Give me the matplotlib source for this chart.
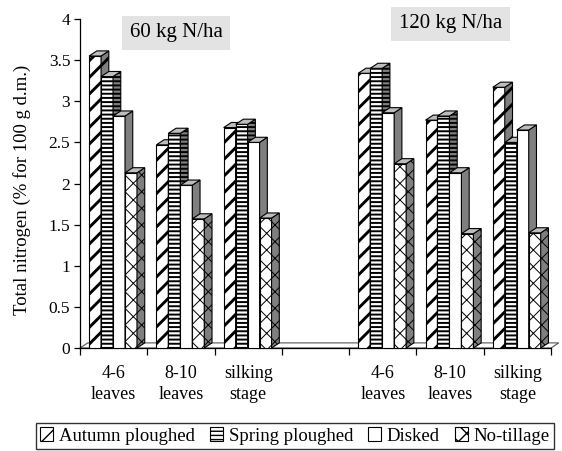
import matplotlib
matplotlib.use("Agg")
import matplotlib.pyplot as plt
from matplotlib.patches import Polygon, Patch
import numpy as np

categories = ["4-6\nleaves", "8-10\nleaves", "silking\nstage", "",
              "4-6\nleaves", "8-10\nleaves", "silking\nstage"]
series = ["Autumn ploughed", "Spring ploughed", "Disked", "No-tillage"]
autumn = [3.55, 2.47, 2.68, None, 3.34, 2.77, 3.17]
spring = [3.30, 2.61, 2.72, None, 3.40, 2.82, 2.50]
disked = [2.82, 1.98, 2.50, None, 2.86, 2.13, 2.65]
notill = [2.13, 1.57, 1.58, None, 2.24, 1.39, 1.40]
yticks = [0, 0.5, 1, 1.5, 2, 2.5, 3, 3.5, 4]
ytick_labels = ["0", "0.5", "1", "1.5", "2", "2.5", "3", "3.5", "4"]
panel_titles = ["60 kg N/ha", "120 kg N/ha"]

plt.rcParams['font.family'] = ['Liberation Serif', 'DejaVu Serif']

hatches = ['//', '----', '', 'xx']
hatch_lw = [2.1, 1.4, 1.0, 0.7]
side_col = '#7f7f7f'
top_col = '#bdbdbd'


def set_hlw(p, lw):
    if hasattr(p, 'set_hatch_linewidth'):
        p.set_hatch_linewidth(lw)


fig = plt.figure(figsize=(5.62, 4.51), dpi=100)
ax = fig.add_axes([80/562, 1-348/451, 471/562, 329/451])
ax.set_xlim(0, 7)
ax.set_ylim(0, 4)

dx, dy = 0.115, 0.062
w = 0.178
off = 0.135

# floor
floor = Polygon([(0, 0), (7, 0), (7+dx, dy), (dx, dy)], closed=True,
                facecolor='white', edgecolor='#555555', lw=0.8, zorder=1.5,
                clip_on=False)
ax.add_patch(floor)

data = [autumn, spring, disked, notill]
for i in range(len(categories)):
    for j, vals in enumerate(data):
        h = vals[i]
        if h is None:
            continue
        x0 = i + off + j*w
        z = 2 + j*0.1 + i*0.01
        with plt.rc_context({'hatch.linewidth': hatch_lw[j]}):
            bars = ax.bar(x0, h, width=w, align='edge', facecolor='white',
                          hatch=hatches[j], edgecolor='black', lw=0.8, zorder=z)
            side = Polygon([(x0+w, 0), (x0+w+dx, dy), (x0+w+dx, h+dy), (x0+w, h)],
                           closed=True, facecolor=side_col, edgecolor='black',
                           hatch=hatches[j], lw=0.8, zorder=z)
            top = Polygon([(x0, h), (x0+dx, h+dy), (x0+w+dx, h+dy), (x0+w, h)],
                          closed=True, facecolor=top_col, edgecolor='black',
                          lw=0.8, zorder=z)
        for b in bars:
            set_hlw(b, hatch_lw[j])
        set_hlw(side, hatch_lw[j])
        ax.add_patch(side)
        ax.add_patch(top)

for s in ['top', 'right']:
    ax.spines[s].set_visible(False)
ax.spines['left'].set_linewidth(0.9)
ax.spines['bottom'].set_linewidth(0.9)
ax.spines['bottom'].set_zorder(1.6)

ax.set_yticks(yticks)
ax.set_yticklabels(ytick_labels, fontsize=12.5)
ax.set_xticks(np.arange(0, 8))
ax.set_xticklabels([])
ax.set_xticks(np.arange(len(categories)) + 0.5, minor=True)
ax.set_xticklabels(categories, minor=True, fontsize=13, linespacing=1.35)
ax.tick_params(axis='x', which='minor', length=0, pad=12)
ax.tick_params(axis='x', which='major', length=5, width=0.9, direction='out')
ax.tick_params(axis='y', length=4, width=0.9, direction='out', pad=3)

ax.set_ylabel("Total nitrogen (% for 100 g d.m.)", fontsize=13.5, labelpad=6)
ax.yaxis.set_label_coords(-49/471, (348-190)/329)

ax.text(1.43, 3.83, panel_titles[0], fontsize=15, ha='center', va='center',
        bbox=dict(facecolor='#e3e3e3', edgecolor='none', pad=5.5), zorder=10)
ax.text(5.51, 3.94, panel_titles[1], fontsize=15, ha='center', va='center',
        bbox=dict(facecolor='#e3e3e3', edgecolor='none', pad=5.5), zorder=10,
        clip_on=False)

handles = []
for k in range(4):
    with plt.rc_context({'hatch.linewidth': min(hatch_lw[k], 1.0)}):
        p = Patch(facecolor='white', edgecolor='black', hatch=hatches[k], lw=0.8)
    set_hlw(p, min(hatch_lw[k], 1.0))
    handles.append(p)
leg = fig.legend(handles, series, loc='center', bbox_to_anchor=(295/562, 1-436/451),
                 ncol=4, frameon=True, fancybox=False, edgecolor='black',
                 fontsize=13.5, handlelength=0.7, handleheight=0.7,
                 handletextpad=0.3, columnspacing=0.8, borderpad=0.25,
                 borderaxespad=0)
leg.get_frame().set_linewidth(1.0)

fig.savefig("out.png", dpi=100)
